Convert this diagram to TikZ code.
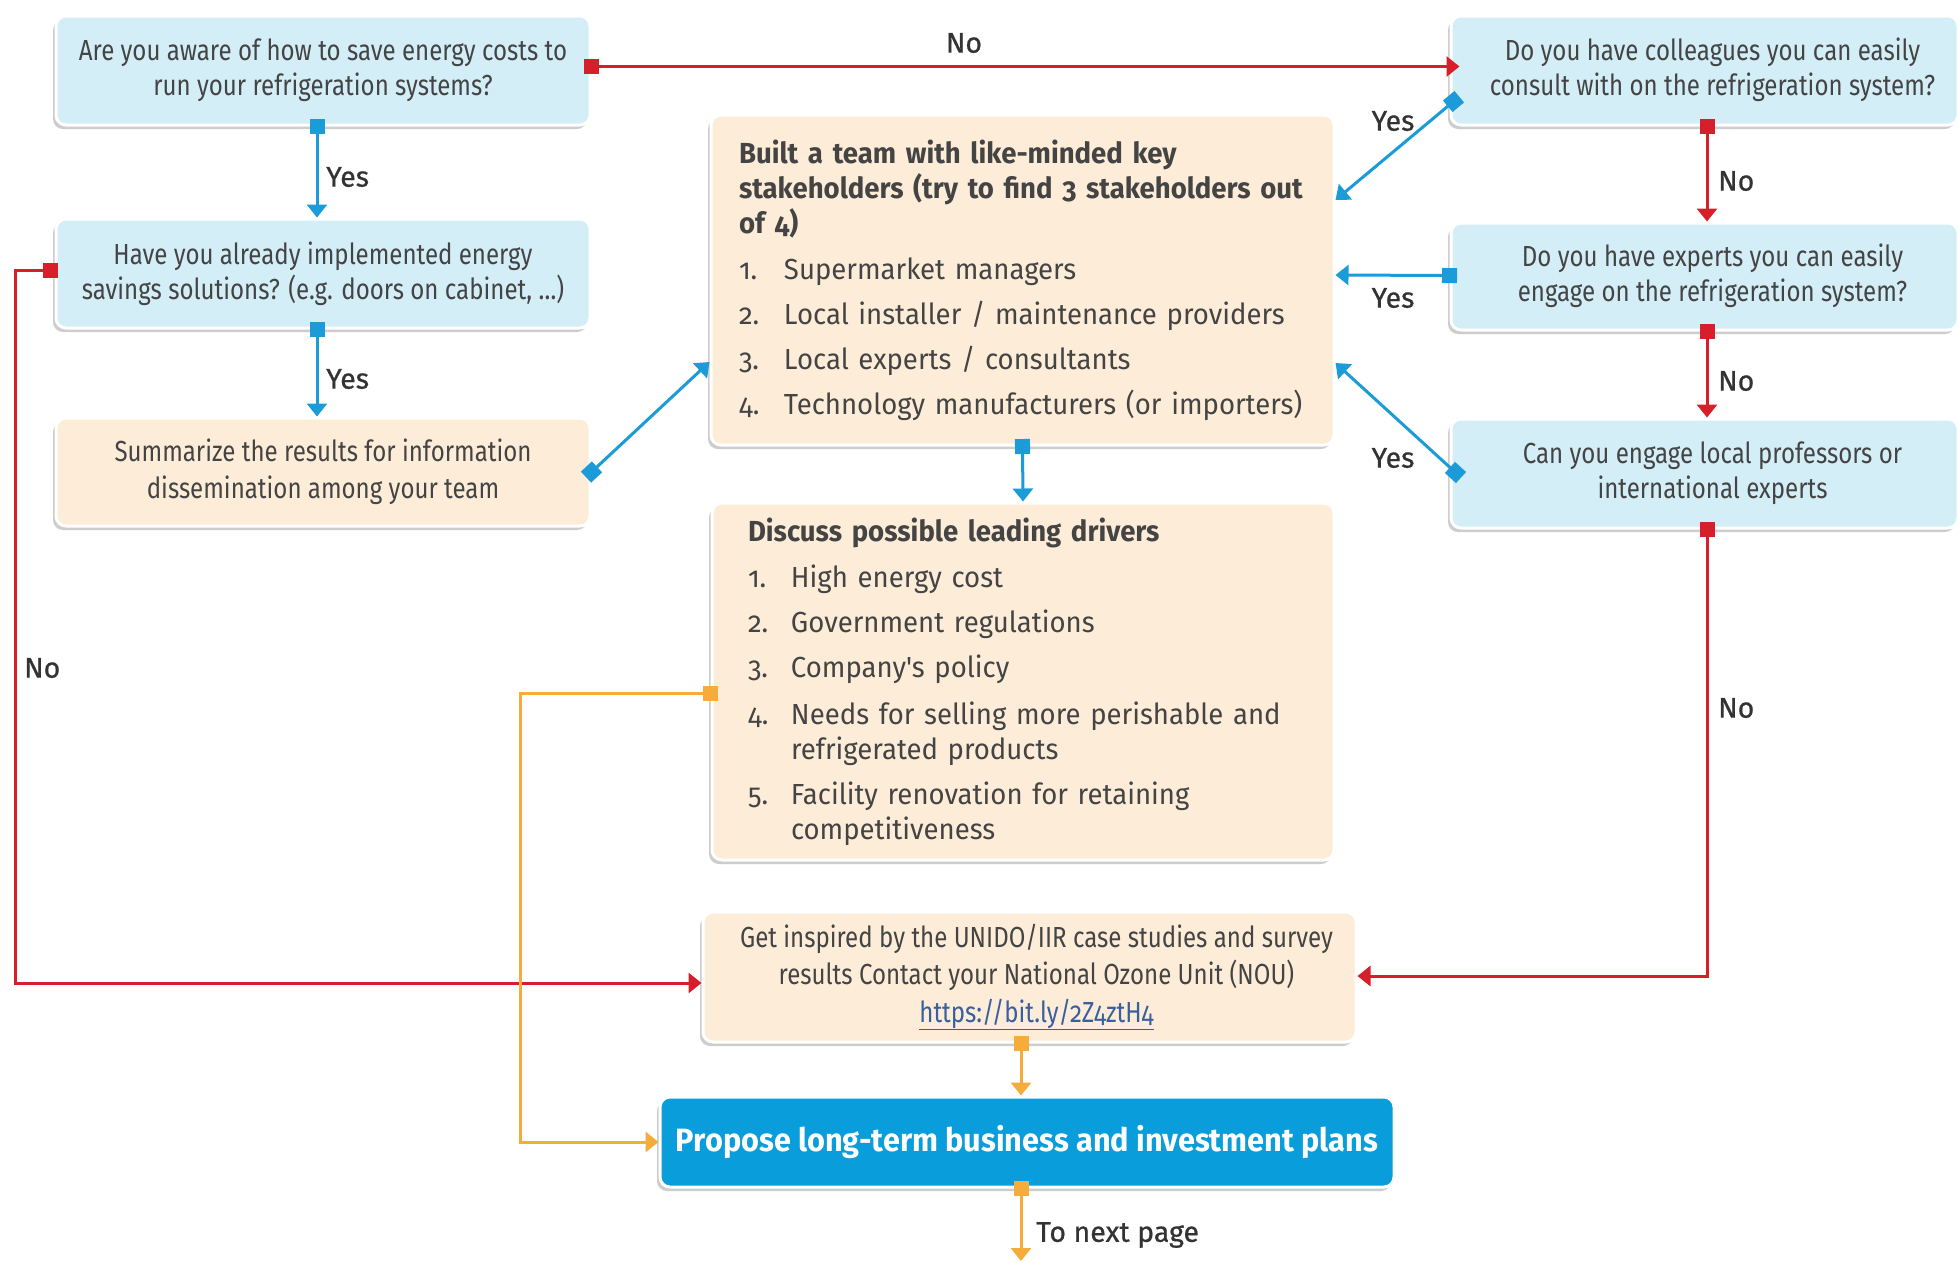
\documentclass[tikz,border=0pt]{standalone}
\usepackage{fontspec}
\setmainfont{Fira Sans}
\newfontfamily\qfont{Fira Sans}[FakeStretch=0.83, Numbers=OldStyle]
\newfontfamily\lfont{Fira Sans}[FakeStretch=0.95, Numbers=OldStyle]
\newfontfamily\labfont{Fira Sans}[FakeBold=0.6]
\usetikzlibrary{arrows.meta,shadows,calc}
\definecolor{lblue}{HTML}{D4EEF8}
\definecolor{lorange}{HTML}{FDEDD8}
\definecolor{cblue}{HTML}{1B9BD7}
\definecolor{cred}{HTML}{D71F2B}
\definecolor{corange}{HTML}{F6AC3A}
\definecolor{pblue}{HTML}{0A9DDB}
\definecolor{boxtext}{HTML}{444444}
\definecolor{labtext}{HTML}{333333}
\definecolor{linkc}{HTML}{3A5FA0}
\newcommand\itm[2]{\makebox[#1][l]{#2}}
\newcommand\shiftedlines[2]{\hspace*{#1}\begin{tabular}{@{}c@{}}#2\end{tabular}}
\tikzset{
  box/.style={rounded corners=10pt, draw=white, line width=3pt, inner sep=0pt,
    drop shadow={shadow xshift=-3pt, shadow yshift=-4pt, opacity=0.28, fill=black!70},
    align=center, text=boxtext},
  qbox/.style={box, fill=lblue, font=\qfont\fontsize{29}{35}\selectfont},
  obox/.style={box, fill=lorange},
  lab/.style={font=\labfont\fontsize{28.5}{32}\selectfont, text=labtext, inner sep=0pt},
  conn/.style={line width=3pt},
  bluec/.style={conn, draw=cblue, arrows={Square[length=15pt,width=15pt]-Triangle[length=13pt,width=20pt]}, shorten <=-7.5pt},
  redc/.style={conn, draw=cred, arrows={Square[length=15pt,width=15pt]-Triangle[length=13pt,width=20pt]}, shorten <=-7.5pt},
  orc/.style={conn, draw=corange, arrows={Square[length=15pt,width=15pt]-Triangle[length=13pt,width=20pt]}, shorten <=-7.5pt},
}
\begin{document}
\begin{tikzpicture}[x=1pt,y=-1pt]
\fill[white] (0,0) rectangle (1959,1262);
\useasboundingbox (0,0) rectangle (1959,1262);

% left column
\node[qbox, minimum width=534pt, minimum height=109pt] (A) at (323,70.5)
  {Are you aware of how to save energy costs to\\run your refrigeration systems?};
\node[qbox, minimum width=534pt, minimum height=109pt] (B) at (323,273.5)
  {Have you already implemented energy\\savings solutions? (e.g. doors on cabinet, \dots)};
\node[obox, font=\qfont\fontsize{29}{37}\selectfont, minimum width=534pt, minimum height=108pt] (C) at (323,472)
  {Summarize the results for information\\dissemination among your team};

% right column
\node[qbox, minimum width=507pt, minimum height=109pt] (D) at (1704.5,70.5)
  {\shiftedlines{16pt}{Do you have colleagues you can easily\\consult with on the refrigeration system?}};
\node[qbox, minimum width=507pt, minimum height=107pt] (E) at (1704.5,276.5)
  {\shiftedlines{16pt}{Do you have experts you can easily\\engage on the refrigeration system?}};
\node[qbox, minimum width=507pt, minimum height=109pt] (F) at (1704.5,473.5)
  {\shiftedlines{16pt}{Can you engage local professors or\\international experts}};

% centre
\node[obox, minimum width=623pt, minimum height=330pt, align=left, text width=567pt,
  font=\lfont\fontsize{29}{35}\selectfont] (T) at (1022.5,280)
  {\textbf{Built a team with like-minded key}\\
   \textbf{stakeholders (try to find 3 stakeholders out}\\
   \textbf{of 4)}\\[11pt]
   \itm{45pt}{1.}Supermarket managers\\[10pt]
   \itm{45pt}{2.}Local installer / maintenance providers\\[10pt]
   \itm{45pt}{3.}Local experts / consultants\\[10pt]
   \itm{45pt}{4.}Technology manufacturers (or importers)};

\node[obox, minimum width=622pt, minimum height=357pt, align=left, text width=550pt,
  font=\lfont\fontsize{29}{35}\selectfont] (U) at (1023,681.5)
  {\textbf{Discuss possible leading drivers}\\[11pt]
   \itm{43pt}{1.}High energy cost\\[10pt]
   \itm{43pt}{2.}Government regulations\\[10pt]
   \itm{43pt}{3.}Company's policy\\[12pt]
   \itm{43pt}{4.}Needs for selling more perishable and\\
   \hspace*{43pt}refrigerated products\\[10pt]
   \itm{43pt}{5.}Facility renovation for retaining\\
   \hspace*{43pt}competitiveness};

\node[obox, font=\qfont\fontsize{29}{37.5}\selectfont, minimum width=653pt, minimum height=130pt] (G) at (1029.5,977)
  {\shiftedlines{14pt}{Get inspired by the UNIDO/IIR case studies and survey\\
   results Contact your National Ozone Unit (NOU)\\
   {\color{linkc}\underline{https://bit.ly/2Z4ztH4}}}};

\node[box, fill=pblue, text=white, font=\lfont\bfseries\fontsize{32.3}{36}\selectfont,
  minimum width=734pt, minimum height=90pt] (P) at (1027,1142)
  {Propose long-term business and investment plans};

% helper coordinates
\coordinate (lx) at (15,0);
\coordinate (lcx) at (317,0);
\coordinate (rcx) at (1707,0);
\coordinate (ox) at (520,0);
\coordinate (mx) at (1021,0);
\coordinate (np) at (1021,1261);

% connectors
\draw[bluec] (A.south -| lcx) -- (B.north -| lcx);
\draw[bluec] (B.south -| lcx) -- (C.north -| lcx);
\draw[redc] ([yshift=4pt]A.east) -- ([yshift=4pt,xshift=10pt]D.west);
\draw[redc] ([yshift=3pt,xshift=-4pt]B.west) -- ([yshift=3pt]B.west -| lx) -- ([yshift=-6pt]lx |- G.west) -- ([yshift=-6pt]G.west);
\draw[bluec] (C.east) -- ([yshift=-82pt]T.west);
\draw[bluec] ([yshift=-31pt,xshift=4pt]D.west) -- ([yshift=80pt]T.east);
\draw[bluec] ([yshift=1pt]E.west) -- ([yshift=5pt]T.east);
\draw[bluec] ([yshift=1pt,xshift=6pt]F.west) -- ([yshift=-83pt]T.east);
\draw[redc] (D.south -| rcx) -- (E.north -| rcx);
\draw[redc] (E.south -| rcx) -- (F.north -| rcx);
\draw[redc] (F.south -| rcx) |- ([yshift=1pt]G.east);
\draw[bluec] (T.south) -- (U.north);
\draw[orc] ([yshift=-12pt]U.west) -- ([yshift=-12pt]U.west -| ox) |- (P.west);
\draw[orc] (G.south -| mx) -- (P.north -| mx);
\draw[orc] (P.south -| mx) -- (np);

% labels
\node[lab] (n1) at (964,43) {No};
\node[lab, anchor=west] (y1) at (326,177) {Yes};
\node[lab, anchor=west] (y2) at (326,379) {Yes};
\node[lab, anchor=west] (n2) at (24,668) {No};
\node[lab] (y3) at (1393,121) {Yes};
\node[lab] (y4) at (1393,298) {Yes};
\node[lab] (y5) at (1393,458) {Yes};
\node[lab, anchor=west] (n3) at (1718,181) {No};
\node[lab, anchor=west] (n4) at (1718,381) {No};
\node[lab, anchor=west] (n5) at (1718,708) {No};
\node[lab, anchor=west] (tn) at (1036,1235) {To next page};
\end{tikzpicture}
\end{document}
